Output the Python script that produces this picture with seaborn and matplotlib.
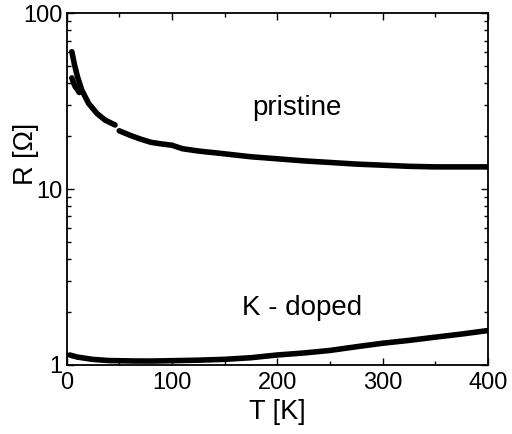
import matplotlib
matplotlib.use('Agg')
import matplotlib.pyplot as plt
import seaborn as sns
import pandas as pd
from matplotlib.ticker import LogLocator, MultipleLocator, NullFormatter, FixedFormatter, FixedLocator

sns.set_style('ticks')
plt.rcParams['font.family'] = ['Liberation Sans', 'DejaVu Sans']
plt.rcParams['text.color'] = 'black'
plt.rcParams['axes.labelcolor'] = 'black'
plt.rcParams['xtick.color'] = 'black'
plt.rcParams['ytick.color'] = 'black'

# pristine sample, upper branch below ~48 K
pristine_a_T = [5, 7.6, 10.4, 14.5, 20.9, 28.8, 36.7, 46]
pristine_a_R = [60.6, 50.9, 43.6, 36.6, 30.8, 27.0, 24.7, 23.2]
# second (lower) branch at the start
pristine_b_T = [5, 6.5, 8.2, 10, 12]
pristine_b_R = [43.0, 40.5, 38.3, 37.2, 35.5]
# pristine above the gap
pristine_c_T = [50, 60, 70, 80, 90, 100, 110, 125, 150, 175, 200, 225, 250, 275, 300, 325, 350, 375, 400]
pristine_c_R = [21.5, 20.3, 19.3, 18.5, 18.1, 17.8, 17.0, 16.5, 15.9, 15.3, 14.9, 14.5, 14.2, 13.9, 13.7, 13.5, 13.4, 13.4, 13.4]

# K-doped sample
doped_T = [3, 10, 25, 40, 63, 80, 100, 125, 150, 175, 200, 225, 250, 275, 300, 325, 350, 375, 400]
doped_R = [1.14, 1.11, 1.076, 1.06, 1.054, 1.053, 1.058, 1.065, 1.077, 1.10, 1.14, 1.17, 1.21, 1.27, 1.33, 1.38, 1.44, 1.50, 1.57]


def main() -> None:
    fig = plt.figure(figsize=(5.12, 4.34), dpi=100)
    ax = fig.add_axes([0.130, 0.159, 0.823, 0.810])

    segments = [
        (pristine_a_T, pristine_a_R),
        (pristine_b_T, pristine_b_R),
        (pristine_c_T, pristine_c_R),
        (doped_T, doped_R),
    ]
    for T, R in segments:
        df = pd.DataFrame({'T': T, 'R': R})
        sns.lineplot(data=df, x='T', y='R', ax=ax, color='black', lw=4.0,
                     solid_capstyle='round', estimator=None, sort=False)

    ax.set_yscale('log')
    ax.set_xlim(0, 400)
    ax.set_ylim(1, 100)

    ax.xaxis.set_major_locator(MultipleLocator(100))
    ax.xaxis.set_minor_locator(MultipleLocator(50))
    ax.yaxis.set_major_locator(FixedLocator([1, 10, 100]))
    ax.yaxis.set_major_formatter(FixedFormatter(['1', '10', '100']))
    ax.yaxis.set_minor_locator(LogLocator(base=10, subs=range(2, 10)))
    ax.yaxis.set_minor_formatter(NullFormatter())

    ax.tick_params(which='both', direction='in', top=True, right=True,
                   width=1.0, color='black', labelsize=17, labelcolor='black')
    ax.tick_params(which='major', length=5)
    ax.tick_params(which='minor', length=3)
    ax.tick_params(axis='x', pad=5)
    ax.tick_params(axis='y', pad=3)

    for s in ax.spines.values():
        s.set_linewidth(1.3)
        s.set_color('black')

    ax.set_xlabel('T [K]', fontsize=19.5, labelpad=4)
    ax.set_ylabel('R [Ω]', fontsize=19.5)
    ax.yaxis.set_label_coords(-0.065, 0.6)

    ax.text(219, 28.9, 'pristine', fontsize=20, ha='center', va='center')
    ax.text(224, 2.11, 'K - doped', fontsize=20, ha='center', va='center')

    fig.savefig('out.png', dpi=100)


if __name__ == '__main__':
    main()
